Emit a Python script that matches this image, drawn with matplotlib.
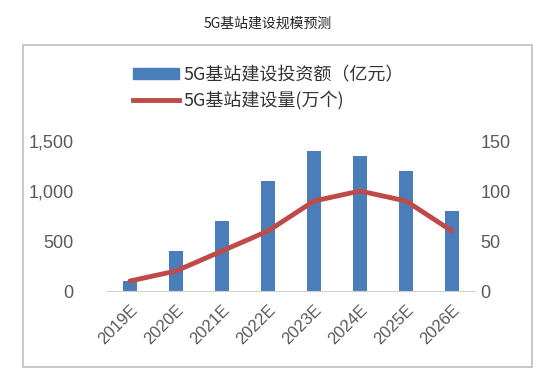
import matplotlib.pyplot as plt
from matplotlib.patches import Rectangle
from matplotlib.lines import Line2D
from matplotlib.ticker import FuncFormatter

plt.rcParams['font.family'] = ['Liberation Sans', 'Noto Sans CJK SC', 'DejaVu Sans']

# 数据
years = ['2019E', '2020E', '2021E', '2022E', '2023E', '2024E', '2025E', '2026E']
invest = [100, 400, 700, 1100, 1400, 1350, 1200, 800]   # 亿元
stations = [10, 20, 40, 60, 90, 100, 90, 60]            # 万个

bar_color = '#4a7ebb'
line_color = '#be4b48'
txt_color = '#595959'

fig = plt.figure(figsize=(5.59, 3.89), dpi=100)
fig.patch.set_facecolor('white')

# 外框
fig.patches.append(Rectangle((23 / 559, 1 - 367 / 389), (532 - 23) / 559, (367 - 45) / 389,
                             transform=fig.transFigure, fill=False,
                             edgecolor='#bfbfbf', linewidth=1.2))

fig.text(268 / 559, 1 - 24 / 389, '5G基站建设规模预测', ha='center', va='center',
         fontsize=10, family=['Noto Sans CJK SC', 'DejaVu Sans'], color='#222222')

ax = fig.add_axes([107 / 559, 1 - 291 / 389, 368 / 559, 151 / 389])
x = range(len(years))
ax.bar(x, invest, width=0.3, color=bar_color, zorder=2)
ax.set_xlim(-0.5, len(years) - 0.5)
ax.set_ylim(0, 1510)
ax.set_yticks([0, 500, 1000, 1500])
ax.yaxis.set_major_formatter(FuncFormatter(lambda v, p: f'{int(v):,}'))
ax.set_xticks(list(x))
ax.set_xticklabels(years, rotation=45, ha='right', rotation_mode='anchor')

ax2 = ax.twinx()
ax2.plot(x, stations, color=line_color, linewidth=3.5, solid_capstyle='round', zorder=3)
ax2.set_ylim(0, 151)
ax2.set_yticks([0, 50, 100, 150])

for a in (ax, ax2):
    for s in a.spines.values():
        s.set_visible(False)
    a.tick_params(length=0, labelsize=13, colors=txt_color)
ax.spines['bottom'].set_visible(True)
ax.spines['bottom'].set_color('#d0d0d0')
ax.tick_params(axis='x', labelsize=12, pad=8)
ax.tick_params(axis='y', pad=24)
ax2.tick_params(axis='y', pad=4)

handles = [Rectangle((0, 0), 1, 1, color=bar_color),
           Line2D([0], [0], color=line_color, linewidth=3.5)]
labels = ['5G基站建设投资额（亿元）', '5G基站建设量(万个)']
fig.legend(handles, labels, loc='center', bbox_to_anchor=(268 / 559, 1 - 88 / 389),
           frameon=False, prop={'family': ['Noto Sans CJK SC', 'DejaVu Sans'], 'size': 13},
           labelcolor='#333333', handlelength=2.6, handletextpad=0.2, labelspacing=0.4,
           handleheight=0.5)

fig.savefig('out.png', dpi=100)
